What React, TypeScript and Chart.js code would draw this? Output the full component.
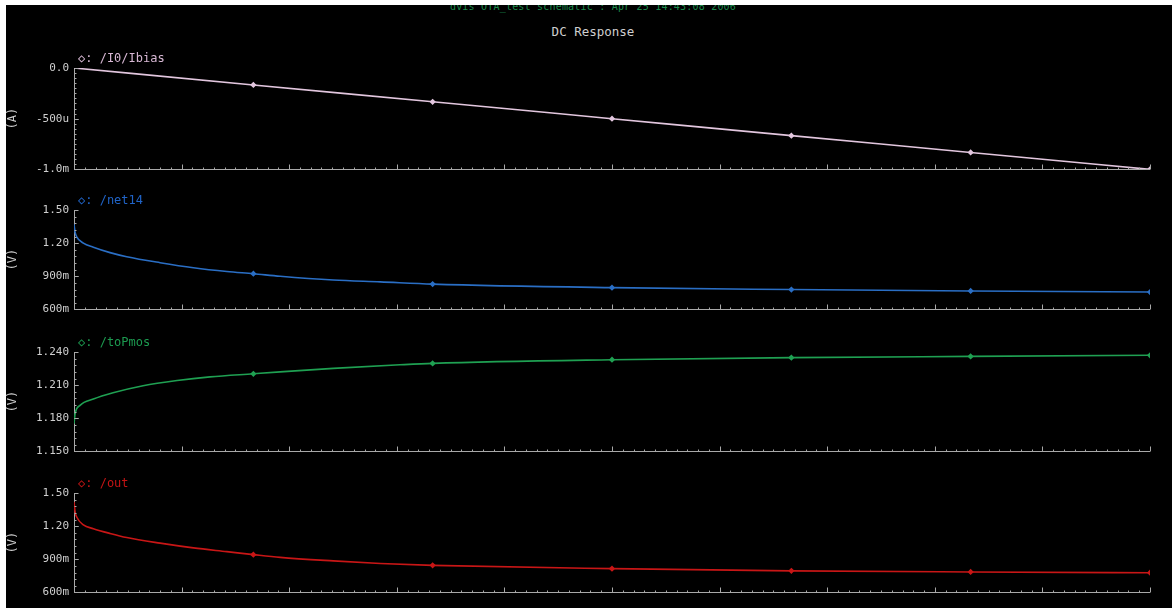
import React, { useEffect, useRef } from "react";
import { Chart, registerables } from "chart.js";

Chart.register(...registerables);

// ---------- data (sweep positions are fractions of the full DC sweep) ----------
const markerSweep = [0.1667, 0.3333, 0.5, 0.6667, 0.8333, 1];

const ibiasSweep = [0, 0.1667, 0.3333, 0.5, 0.6667, 0.8333, 1];
const ibiasValues = [0, -0.000167, -0.000333, -0.0005, -0.000667, -0.000833, -0.001];

const net14Sweep = [0, 0.001, 0.0025, 0.0087, 0.018, 0.0335, 0.049, 0.08, 0.111, 0.142, 0.1667, 0.1916, 0.241, 0.2847, 0.3333, 0.5, 0.6667, 0.8333, 1];
const net14Values = [1.37, 1.3, 1.257, 1.2, 1.163, 1.114, 1.077, 1.023, 0.977, 0.943, 0.923, 0.9, 0.866, 0.849, 0.829, 0.797, 0.78, 0.767, 0.757];

const toPmosSweep = [0, 0.001, 0.0056, 0.018, 0.0363, 0.0642, 0.0958, 0.1265, 0.1667, 0.1916, 0.241, 0.303, 0.3333, 0.5, 0.6667, 0.8333, 1];
const toPmosValues = [1.175, 1.184, 1.1917, 1.1974, 1.2031, 1.2095, 1.2142, 1.2175, 1.2203, 1.222, 1.2252, 1.2284, 1.2297, 1.233, 1.2349, 1.236, 1.237];

const outSweep = [0, 0.001, 0.0025, 0.0087, 0.018, 0.0335, 0.049, 0.08, 0.111, 0.142, 0.1667, 0.1916, 0.241, 0.2847, 0.3333, 0.5, 0.6667, 0.8333, 1];
const outValues = [1.42, 1.33, 1.283, 1.211, 1.177, 1.134, 1.097, 1.046, 1.003, 0.969, 0.942, 0.917, 0.885, 0.862, 0.845, 0.815, 0.795, 0.785, 0.778];

const ibiasTicks = [-0.001, -0.0005, 0];
const ibiasTickLabels = ["-1.0m", "-500u", "0.0"];
const voltTicks = [0.6, 0.9, 1.2, 1.5];
const voltTickLabels = ["600m", "900m", "1.20", "1.50"];
const toPmosTicks = [1.15, 1.18, 1.21, 1.24];
const toPmosTickLabels = ["1.150", "1.180", "1.210", "1.240"];

const titleLine = "dvis OTA_test schematic : Apr 25 14:43:08 2006";
const subTitle = "DC Response";

// ---------- styling ----------
const FONT = '"DejaVu Sans Mono", monospace';
const AXIS_COLOR = "#a8a8a8";
const TEXT_COLOR = "#cfcfcf";
const BOX_W = 1166;
const PAD_T = 22;
const PAD_B = 6;

const waveAxes = {
  id: "waveAxes",
  afterDraw(chart: any, _args: any, opts: any) {
    const { ctx, chartArea } = chart;
    const { left, right, top, bottom } = chartArea;
    const xs = chart.scales.x;
    const ys = chart.scales.y;
    ctx.save();
    ctx.strokeStyle = AXIS_COLOR;
    ctx.lineWidth = 1;
    ctx.beginPath();
    const yb = Math.round(bottom) + 0.5;
    ctx.moveTo(left, yb);
    ctx.lineTo(right, yb);
    for (let i = 0; i <= 100; i++) {
      const px = Math.round(xs.getPixelForValue(i / 100)) + 0.5;
      const len = i % 10 === 0 ? 5 : 2;
      ctx.moveTo(px, yb);
      ctx.lineTo(px, yb - len);
    }
    const tv: number[] = opts.ticks;
    const sub: number = opts.sub;
    const xl = Math.round(left) + 0.5;
    for (let k = 0; k < tv.length - 1; k++) {
      for (let m = 0; m <= sub; m++) {
        const v = tv[k] + ((tv[k + 1] - tv[k]) * m) / sub;
        const py = Math.round(ys.getPixelForValue(v)) + 0.5;
        const len = m === 0 || m === sub ? 4 : 2;
        ctx.moveTo(xl, py);
        ctx.lineTo(xl + len, py);
      }
    }
    ctx.stroke();
    ctx.fillStyle = opts.labelColor;
    ctx.font = "12px " + FONT;
    ctx.textBaseline = "middle";
    ctx.textAlign = "left";
    ctx.fillText(opts.label, left + 4, top - 9);
    ctx.restore();
  },
};

type PanelProps = {
  top: number;
  height: number;
  sweep: number[];
  values: number[];
  color: string;
  labelColor: string;
  label: string;
  unit: string;
  ticks: number[];
  tickLabels: string[];
  sub: number;
};

function WavePanel(p: PanelProps) {
  const ref = useRef<HTMLCanvasElement>(null);
  useEffect(() => {
    const chart = new Chart(ref.current as HTMLCanvasElement, {
      type: "line",
      data: {
        datasets: [
          {
            data: p.sweep.map((x, i) => ({ x, y: p.values[i] })),
            borderColor: p.color,
            borderWidth: 1.6,
            backgroundColor: p.color,
            pointBackgroundColor: p.color,
            pointBorderColor: p.color,
            pointStyle: "rectRot",
            pointRadius: (c: any) => {
              const x = c.raw ? c.raw.x : -1;
              return markerSweep.some((m) => Math.abs(m - x) < 1e-3) ? 2 : 0;
            },
            cubicInterpolationMode: "monotone",
            fill: false,
          } as any,
        ],
      },
      options: {
        animation: false,
        responsive: true,
        maintainAspectRatio: false,
        layout: { padding: { top: PAD_T, bottom: PAD_B, left: 0, right: 22 } },
        plugins: {
          legend: { display: false },
          tooltip: { enabled: false },
          waveAxes: { ticks: p.ticks, sub: p.sub, label: p.label, labelColor: p.labelColor },
        } as any,
        scales: {
          x: { type: "linear", min: 0, max: 1, display: false },
          y: {
            type: "linear",
            min: p.ticks[0],
            max: p.ticks[p.ticks.length - 1],
            grid: { display: false, drawTicks: false },
            border: { display: true, color: AXIS_COLOR, width: 1 },
            afterBuildTicks: (s: any) => {
              s.ticks = p.ticks.map((v) => ({ value: v }));
            },
            afterFit: (s: any) => {
              s.width = 68;
            },
            ticks: {
              color: TEXT_COLOR,
              font: { family: FONT, size: 11 },
              padding: 5,
              autoSkip: false,
              callback: (_v: any, i: number) => p.tickLabels[i],
            },
            title: {
              display: true,
              text: p.unit,
              color: TEXT_COLOR,
              font: { family: FONT, size: 12 },
              padding: 0,
            },
          },
        },
      },
      plugins: [waveAxes as any],
    });
    return () => chart.destroy();
  }, []);
  return (
    <div
      style={{
        position: "absolute",
        left: 0,
        top: p.top - PAD_T,
        width: BOX_W,
        height: p.height + PAD_T + PAD_B,
      }}
    >
      <canvas ref={ref} />
    </div>
  );
}

export default function App() {
  return (
    <div
      style={{
        position: "absolute",
        left: 6,
        top: 5,
        width: BOX_W,
        height: 603,
        background: "#000",
        overflow: "hidden",
      }}
    >
      <div
        style={{
          position: "absolute",
          left: 587,
          top: -3,
          transform: "translateX(-50%)",
          whiteSpace: "nowrap",
          color: "#1b8a4c",
          font: "10px " + FONT,
          lineHeight: "10px",
          letterSpacing: "0.2px",
        }}
      >
        {titleLine}
      </div>
      <div
        style={{
          position: "absolute",
          left: 587,
          top: 20,
          transform: "translateX(-50%)",
          whiteSpace: "nowrap",
          color: TEXT_COLOR,
          font: "12.5px " + FONT,
          lineHeight: "13px",
        }}
      >
        {subTitle}
      </div>
      <WavePanel top={63} height={107} sweep={ibiasSweep} values={ibiasValues} color="#e2c6de" labelColor="#d8b8d4" label="◇: /I0/Ibias" unit="(A)" ticks={ibiasTicks} tickLabels={ibiasTickLabels} sub={10} />
      <WavePanel top={205} height={105} sweep={net14Sweep} values={net14Values} color="#2a6ec4" labelColor="#2064c8" label="◇: /net14" unit="(V)" ticks={voltTicks} tickLabels={voltTickLabels} sub={5} />
      <WavePanel top={347} height={105} sweep={toPmosSweep} values={toPmosValues} color="#1fa052" labelColor="#1c9a50" label="◇: /toPmos" unit="(V)" ticks={toPmosTicks} tickLabels={toPmosTickLabels} sub={5} />
      <WavePanel top={488} height={105} sweep={outSweep} values={outValues} color="#c81616" labelColor="#c41414" label="◇: /out" unit="(V)" ticks={voltTicks} tickLabels={voltTickLabels} sub={5} />
    </div>
  );
}
